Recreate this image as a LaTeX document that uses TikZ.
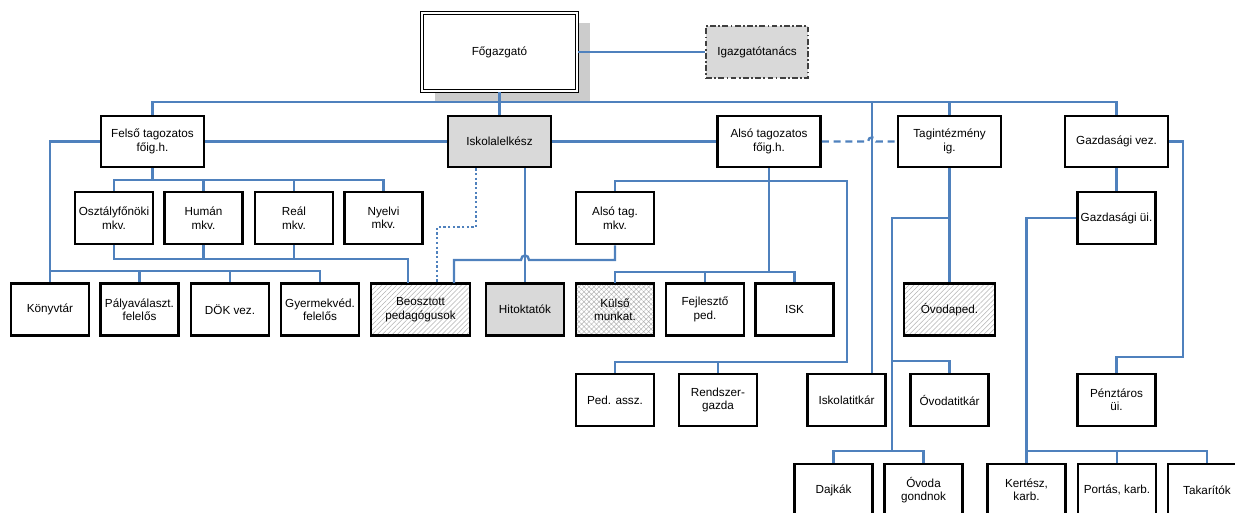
\documentclass[tikz,border=0pt]{standalone}
\usepackage{fontspec}
\setmainfont{Liberation Sans}
\usepackage{xcolor}
\usepackage{tikz}
\usetikzlibrary{patterns.meta,shadows}
\definecolor{lineblue}{RGB}{79,129,189}
\definecolor{boxgray}{RGB}{217,217,217}
\definecolor{shadegray}{RGB}{204,204,204}

\begin{document}
\begin{tikzpicture}[x=0.03cm, y=-0.03cm,
  every node/.style={font=\fontsize{10}{11.5}\selectfont},
  box/.style={draw, line width=2.3pt, fill=white, align=center, inner sep=1pt,
    minimum width=2.34cm, minimum height=1.56cm},
  headbox/.style={box, minimum width=3.09cm, minimum height=1.53cm},
  greybox/.style={fill=boxgray},
  hatchbox/.style={pattern={Lines[angle=45, distance=3pt, line width=0.45pt]}, pattern color=gray!60},
  crossbox/.style={pattern={Hatch[angle=45, distance=3pt, line width=0.4pt]}, pattern color=gray!60},
  conn/.style={draw=lineblue, line width=2pt}]
  \useasboundingbox (0,0) rectangle (1235,513);
  \clip (0,0) rectangle (1235,513);

  \node[box, minimum width=4.65cm, minimum height=2.34cm, line width=0.9pt,
    double=white, double distance=1.8pt,
    drop shadow={shadow xshift=0.39cm, shadow yshift=-0.3cm, fill=shadegray, opacity=1}]
    (fo) at (499.5,52) {Főgazgató};
  \node[box, greybox, draw=black!75, line width=1.2pt, minimum width=3.06cm,
    dash pattern=on 5pt off 2pt on 1.5pt off 2pt] (igt) at (757,52) {Igazgatótanács};

  \node[headbox] (felso) at (152.5,141.5) {Felső tagozatos\\főig.h.};
  \node[headbox, greybox] (lelk) at (499.5,141.5) {Iskolalelkész};
  \node[headbox] (also) at (769,141.5) {Alsó tagozatos\\főig.h.};
  \node[headbox] (tag) at (949.5,141.5) {Tagintézmény\\ig.};
  \node[headbox] (gvez) at (1116.5,141.5) {Gazdasági vez.};

  \node[box] (ofo) at (114,218) {Osztályfőnöki\\mkv.};
  \node[box] (hum) at (203.5,218) {Humán\\mkv.};
  \node[box] (real) at (294,218) {Reál\\mkv.};
  \node[box] (nyelv) at (383.5,218) {Nyelvi\\mkv.};
  \node[box] (atmkv) at (615,218) {Alsó tag.\\mkv.};
  \node[box] (gui) at (1116.5,218) {Gazdasági üi.};

  \node[box] (konyv) at (50,309.5) {Könyvtár};
  \node[box] (palya) at (139.5,309.5) {Pályaválaszt.\\felelős};
  \node[box] (dok) at (230,309.5) {DÖK vez.};
  \node[box] (gyv) at (320,309.5) {Gyermekvéd.\\felelős};
  \node[box, hatchbox, minimum width=2.97cm] (beo) at (420.5,309.5) {Beosztott\\pedagógusok};
  \node[box, greybox] (hit) at (525,309.5) {Hitoktatók};
  \node[box, crossbox] (kul) at (615,309.5) {Külső\\munkat.};
  \node[box] (fejl) at (705,309.5) {Fejlesztő\\ped.};
  \node[box] (isk) at (794.5,309.5) {ISK};
  \node[box, hatchbox, minimum width=2.73cm] (ovped) at (949.5,309.5) {Óvodaped.};

  \node[box] (pedassz) at (615,400) {Ped. assz.};
  \node[box] (rendsz) at (718,400) {Rendszer-\\gazda};
  \node[box] (iskt) at (846.5,400) {Iskolatitkár};
  \node[box] (ovtitk) at (949.5,400) {Óvodatitkár};
  \node[box] (penzt) at (1116.5,400) {Pénztáros\\üi.};

  \node[box] (dajk) at (833.5,490) {Dajkák};
  \node[box] (ovgond) at (923.5,490) {Óvoda\\gondnok};
  \node[box] (kert) at (1026.5,490) {Kertész,\\karb.};
  \node[box] (portas) at (1117,490) {Portás, karb.};
  \node[box] (takar) at (1207,490) {Takarítók};

  \coordinate (topbus) at (0,102);
  \coordinate (mkvbus) at (0,180);
  \coordinate (lowbus) at (0,259);
  \coordinate (leftbus) at (0,271);
  \coordinate (kulbus) at (0,272);
  \coordinate (gzbus) at (0,451);
  \coordinate (titk) at (872,102);
  \coordinate (beoa) at (408,259);
  \coordinate (beob) at (454,260);
  \coordinate (dota) at (476,227);
  \coordinate (dotb) at (437,227);
  \coordinate (midbus) at (847,181);
  \coordinate (assbus) at (847,362);
  \coordinate (ova) at (892,218);
  \coordinate (ovb) at (892,361);
  \coordinate (gzr) at (1183,357);

  \draw[conn] (fo.east) -- (igt.west);
  \draw[conn] (fo.south) -- (lelk.north);
  \draw[conn] (felso.north) -- (felso.north |- topbus) -- (gvez.north |- topbus) -- (gvez.north);
  \draw[conn] (tag.north) -- (tag.north |- topbus);
  \draw[conn] (titk) -- (titk |- iskt.north);
  \draw[conn] (felso.east) -- (lelk.west);
  \draw[conn] (lelk.east) -- (also.west);
  \draw[conn, dash pattern=on 6pt off 4pt] (also.east) -- (868,141.5)
    .. controls (868,136) and (876,136) .. (876,141.5) -- (tag.west);

  \draw[conn] (felso.west) -| (konyv.north);
  \draw[conn] (konyv.north |- leftbus) -| (gyv.north);
  \foreach \n in {palya,dok}
    \draw[conn] (\n.north) -- (\n.north |- leftbus);

  \draw[conn] (felso.south) -- (felso.south |- mkvbus);
  \draw[conn] (ofo.north) |- (nyelv.north |- mkvbus) -- (nyelv.north);
  \foreach \n in {hum,real}
    \draw[conn] (\n.north) -- (\n.north |- mkvbus);

  \draw[conn] (ofo.south) |- (beoa) -- (beoa |- beo.north);
  \foreach \n in {hum,real}
    \draw[conn] (\n.south) -- (\n.south |- lowbus);
  \draw[conn, dotted] (dota |- lelk.south) -- (dota) -- (dotb) -- (dotb |- beo.north);
  \draw[conn] (hit.north) -- (hit.north |- lelk.south);
  \draw[conn] (atmkv.south) |- (529,260) .. controls (529,254) and (521,254) .. (521,260)
    -- (beob) -- (beob |- beo.north);

  \draw[conn] (atmkv.north) |- (midbus) -- (assbus) -| (pedassz.north);
  \draw[conn] (rendsz.north) -- (rendsz.north |- assbus);
  \draw[conn] (also.south) -- (also.south |- kulbus);
  \draw[conn] (kul.north) |- (isk.north |- kulbus) -- (isk.north);
  \draw[conn] (fejl.north) -- (fejl.north |- kulbus);

  \draw[conn] (tag.south) -- (ovped.north);
  \draw[conn] (tag.south |- ova) -- (ova) -- (ova |- gzbus);
  \draw[conn] (ovb) -| (ovtitk.north);
  \draw[conn] (dajk.north) |- (ovgond.north |- gzbus) -- (ovgond.north);

  \draw[conn] (gvez.south) -- (gui.north);
  \draw[conn] (gui.west) -| (kert.north);
  \draw[conn] (kert.north |- gzbus) -| (takar.north);
  \draw[conn] (portas.north) -- (portas.north |- gzbus);
  \draw[conn] (gvez.east) -| (gzr) -| (penzt.north);
\end{tikzpicture}
\end{document}
